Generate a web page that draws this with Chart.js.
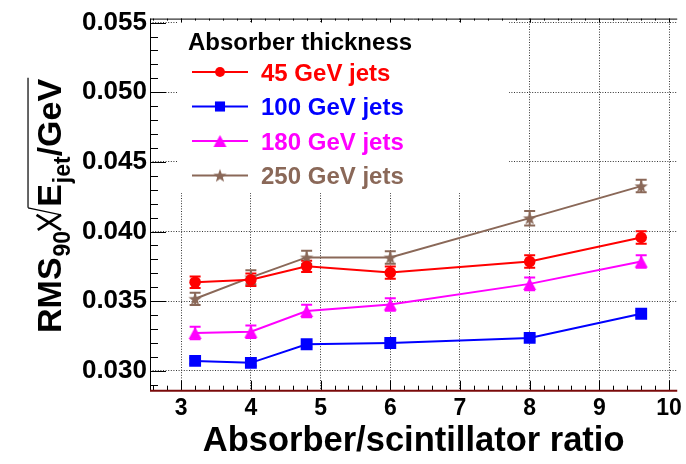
<!DOCTYPE html>
<html><head><meta charset="utf-8">
<script src="https://cdn.jsdelivr.net/npm/chart.js@4.4.1/dist/chart.umd.min.js"></script>
<style>html,body{margin:0;padding:0;background:#fff;}#wrap{width:686px;height:464px;position:relative;}</style>
</head><body><div id="wrap"><canvas id="c" width="686" height="464"></canvas></div>
<script>
// ---- data ----
const ratios = [3.2, 4.0, 4.8, 6.0, 8.0, 9.6];
const rms45  = [0.03636, 0.03653, 0.03750, 0.03705, 0.03784, 0.03957];
const err45  = [0.00041, 0.00045, 0.00040, 0.00044, 0.00045, 0.00045];
const rms100 = [0.03071, 0.03057, 0.03191, 0.03200, 0.03236, 0.03410];
const err100 = [0.00020, 0.00020, 0.00020, 0.00020, 0.00020, 0.00020];
const rms180 = [0.03272, 0.03280, 0.03429, 0.03476, 0.03624, 0.03784];
const err180 = [0.00045, 0.00045, 0.00045, 0.00045, 0.00045, 0.00045];
const rms250 = [0.03517, 0.03671, 0.03814, 0.03814, 0.04096, 0.04326];
const err250 = [0.00044, 0.00050, 0.00048, 0.00045, 0.00052, 0.00045];
const seriesNames = ['45 GeV jets', '100 GeV jets', '180 GeV jets', '250 GeV jets'];
const xTicks = [3, 4, 5, 6, 7, 8, 9, 10];
const yTicks = [0.030, 0.035, 0.040, 0.045, 0.050, 0.055];
const legendTitle = 'Absorber thickness';
const xTitle = 'Absorber/scintillator ratio';

// ---- styling ----
const fam = '"Liberation Sans", Arial, Helvetica, sans-serif';
const colors = ['#ff0000', '#0000ff', '#ff00ff', '#8a6858'];

function makeTriangle(color) {
  const c = document.createElement('canvas'); c.width = 15; c.height = 14;
  const g = c.getContext('2d'); g.fillStyle = color;
  g.beginPath(); g.moveTo(7.5, 1); g.lineTo(14, 13); g.lineTo(1, 13); g.closePath(); g.fill();
  return c;
}
function makeStar(color) {
  const c = document.createElement('canvas'); c.width = 16; c.height = 16;
  const g = c.getContext('2d'); g.fillStyle = color;
  const cx = 8, cy = 8.6, R = 7, r = 2.9;
  g.beginPath();
  for (let k = 0; k < 10; k++) {
    const a = -Math.PI / 2 + k * Math.PI / 5, rr = k % 2 ? r : R;
    const px = cx + rr * Math.cos(a), py = cy + rr * Math.sin(a);
    k ? g.lineTo(px, py) : g.moveTo(px, py);
  }
  g.closePath(); g.fill();
  return c;
}
const pointStyles = ['circle', 'rect', makeTriangle(colors[2]), makeStar(colors[3])];
const pointRadii = [5.8, 8.4, 7, 7];
const values = [rms45, rms100, rms180, rms250];
const errors = [err45, err100, err180, err250];

const datasets = values.map((vals, i) => ({
  label: seriesNames[i],
  data: ratios.map((x, j) => ({x: x, y: vals[j]})),
  borderColor: colors[i], backgroundColor: colors[i],
  borderWidth: 2, pointStyle: pointStyles[i], pointRadius: pointRadii[i],
  pointBorderWidth: 0, pointHoverRadius: pointRadii[i], tension: 0, fill: false
}));

const errorBars = {
  id: 'errorBars',
  beforeDatasetsDraw(chart) {
    const ctx = chart.ctx, xs = chart.scales.x, ys = chart.scales.y;
    ctx.save();
    // legend background box (covers grid)
    ctx.fillStyle = '#fff';
    ctx.fillRect(178, 22, 331, 171);
    // error bars
    errors.forEach((errs, i) => {
      ctx.strokeStyle = colors[i]; ctx.lineWidth = 2;
      ratios.forEach((x, j) => {
        const px = xs.getPixelForValue(x);
        const y1 = ys.getPixelForValue(values[i][j] + errs[j]);
        const y2 = ys.getPixelForValue(values[i][j] - errs[j]);
        ctx.beginPath();
        ctx.moveTo(px, y1); ctx.lineTo(px, y2);
        ctx.moveTo(px - 5.5, y1); ctx.lineTo(px + 5.5, y1);
        ctx.moveTo(px - 5.5, y2); ctx.lineTo(px + 5.5, y2);
        ctx.stroke();
      });
    });
    // legend
    ctx.fillStyle = '#000';
    ctx.font = 'bold 24px ' + fam;
    ctx.textAlign = 'left'; ctx.textBaseline = 'alphabetic';
    ctx.fillText(legendTitle, 188, 50.3);
    const rowY = [72, 106.5, 141, 175.5];
    seriesNames.forEach((name, i) => {
      const y = rowY[i];
      ctx.strokeStyle = colors[i]; ctx.lineWidth = 2;
      ctx.beginPath(); ctx.moveTo(192, y); ctx.lineTo(248, y); ctx.stroke();
      ctx.fillStyle = colors[i];
      Chart.helpers.drawPoint(ctx, {pointStyle: pointStyles[i], radius: pointRadii[i] * 0.85, borderWidth: 0}, 220, y);
      ctx.fillStyle = colors[i];
      ctx.fillText(name, 261, y + 8.6);
    });
    ctx.restore();
  },
  afterDatasetsDraw(chart) {
    const ctx = chart.ctx, xs = chart.scales.x, ys = chart.scales.y;
    const {left, right, top, bottom} = chart.chartArea;
    ctx.save();
    ctx.strokeStyle = '#000'; ctx.lineWidth = 1;
    ctx.beginPath();
    ctx.moveTo(left + 0.5, top); ctx.lineTo(left + 0.5, bottom);
    ctx.moveTo(left, top + 0.5); ctx.lineTo(right, top + 0.5);
    for (let k = 29; k <= 55; k++) {
      const v = k / 1000, py = Math.round(ys.getPixelForValue(v)) + 0.5;
      const len = (k % 5 === 0) ? 16 : 8;
      ctx.moveTo(left, py); ctx.lineTo(left + len, py);
    }
    for (let k = 13; k <= 50; k++) {
      const v = k / 5, px = Math.round(xs.getPixelForValue(v)) + 0.5;
      if (px > right) continue;
      const len = (k % 5 === 0) ? 10 : 5;
      ctx.moveTo(px, bottom); ctx.lineTo(px, bottom - len);
      const tl = (k % 5 === 0) ? 4 : 2;
      ctx.moveTo(px, top); ctx.lineTo(px, top + tl);
    }
    ctx.stroke();
    ctx.strokeStyle = '#7a0a0a'; ctx.lineWidth = 2;
    ctx.beginPath(); ctx.moveTo(left, bottom); ctx.lineTo(right, bottom); ctx.stroke();
    ctx.restore();
  },
  afterDraw(chart) {
    // y axis title: RMS_90 / sqrt(E_jet / GeV)
    const ctx = chart.ctx;
    ctx.save();
    ctx.translate(61, 333);
    ctx.rotate(-Math.PI / 2);
    ctx.fillStyle = '#000'; ctx.strokeStyle = '#000';
    ctx.textAlign = 'left'; ctx.textBaseline = 'alphabetic';
    const F = 34, S = 23;
    let u = 0;
    ctx.font = 'bold ' + F + 'px ' + fam;
    ctx.fillText('RMS', u, 0); u += ctx.measureText('RMS').width;
    ctx.font = 'bold ' + S + 'px ' + fam;
    ctx.fillText('90', u + 1, 9); u += ctx.measureText('90').width + 2;
    ctx.lineWidth = 2.6; ctx.lineCap = 'butt';
    const capH = F * 0.72;
    ctx.beginPath();
    ctx.moveTo(u, 0); ctx.lineTo(u + 15, -capH);
    ctx.moveTo(u, -capH * 0.95); ctx.lineTo(u + 15, 0);
    ctx.stroke();
    ctx.lineWidth = 1.2;
    const topV = -F * 0.97;
    ctx.beginPath();
    ctx.moveTo(u + 15, 0); ctx.lineTo(u + 22, topV);
    u += 23;
    const startOver = u - 1;
    ctx.font = 'bold ' + F + 'px ' + fam;
    ctx.fillText('E', u, 0); u += ctx.measureText('E').width;
    ctx.font = 'bold ' + S + 'px ' + fam;
    ctx.fillText('jet', u + 1, 9); u += ctx.measureText('jet').width + 1;
    ctx.font = 'bold ' + F + 'px ' + fam;
    ctx.fillText('/GeV', u, 0); u += ctx.measureText('/GeV').width;
    ctx.moveTo(startOver, topV); ctx.lineTo(u + 1, topV);
    ctx.stroke();
    ctx.restore();
  }
};

new Chart(document.getElementById('c'), {
  type: 'line',
  data: {datasets: datasets},
  options: {
    responsive: false, animation: false, devicePixelRatio: 1,
    layout: {padding: {top: 16.7, right: 0, left: 0, bottom: 0}},
    plugins: {legend: {display: false}, tooltip: {enabled: false}},
    scales: {
      x: {
        type: 'linear', min: 2.5526, max: 10.117,
        afterBuildTicks: s => { s.ticks = xTicks.map(v => ({value: v})); },
        afterFit: s => { s.height = 73.3; },
        ticks: {color: '#000', font: {family: fam, size: 23, weight: 'bold'}, padding: 4,
                maxRotation: 0, autoSkip: false, callback: v => String(v)},
        grid: {color: '#333', lineWidth: 1, drawTicks: false},
        border: {display: false, dash: [1, 1.6]},
        title: {display: true, text: xTitle, color: '#000',
                font: {family: fam, size: 34.5, weight: 'bold'}, padding: {top: 0, bottom: 2}}
      },
      y: {
        type: 'linear', min: 0.028571, max: 0.055286,
        afterBuildTicks: s => { s.ticks = yTicks.map(v => ({value: v})); },
        afterFit: s => { s.width = 150; },
        ticks: {color: '#000', font: {family: fam, size: 26, weight: 'bold'}, padding: 3,
                callback: v => Number(v).toFixed(3)},
        grid: {color: '#333', lineWidth: 1, drawTicks: false},
        border: {display: false, dash: [1, 1.6]}
      }
    }
  },
  plugins: [errorBars]
});
</script>
</body></html>
